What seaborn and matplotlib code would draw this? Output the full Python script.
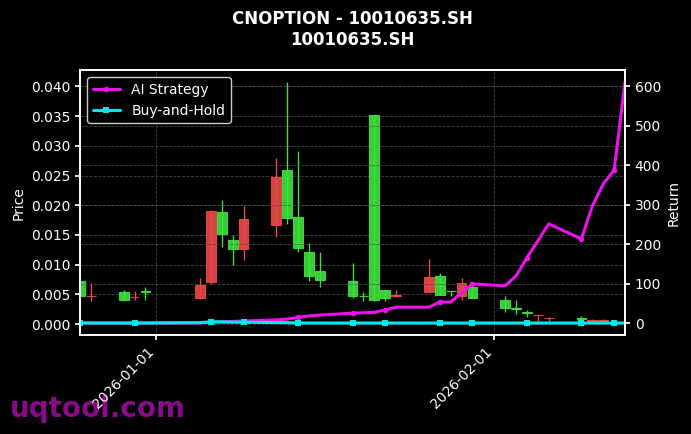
import pandas as pd
import numpy as np
import matplotlib
matplotlib.use("Agg")
import matplotlib.pyplot as plt
import matplotlib.dates as mdates
import seaborn as sns

# trading days shown on the chart
dates = pd.to_datetime([
    "2025-12-25", "2025-12-26", "2025-12-29", "2025-12-30", "2025-12-31",
    "2026-01-05", "2026-01-06", "2026-01-07", "2026-01-08", "2026-01-09",
    "2026-01-12", "2026-01-13", "2026-01-14", "2026-01-15", "2026-01-16",
    "2026-01-19", "2026-01-20", "2026-01-21", "2026-01-22", "2026-01-23",
    "2026-01-26", "2026-01-27", "2026-01-28", "2026-01-29", "2026-01-30",
    "2026-02-02", "2026-02-03", "2026-02-04", "2026-02-05", "2026-02-06",
    "2026-02-09", "2026-02-10", "2026-02-11", "2026-02-12", "2026-02-13",
])

open_ = [0.0073, 0.0047, 0.0054, 0.0045, 0.0055,
         0.0044, 0.0071, 0.0189, 0.0142, 0.0127,
         0.0167, 0.0260, 0.0181, 0.0122, 0.0089,
         0.0073, 0.0048, 0.0351, 0.0057, 0.0048,
         0.0054, 0.0081, 0.0056, 0.0047, 0.0062,
         0.0041, 0.0027, 0.0020, 0.0015, 0.0010,
         0.0010, 0.0006, 0.0006, 0.0004, 0.0003]
close = [0.0047, 0.0048, 0.0041, 0.0046, 0.0054,
         0.0066, 0.0191, 0.0152, 0.0127, 0.0177,
         0.0248, 0.0179, 0.0128, 0.0081, 0.0074,
         0.0047, 0.0047, 0.0041, 0.0044, 0.0049,
         0.0079, 0.0049, 0.0055, 0.0069, 0.0044,
         0.0027, 0.0026, 0.0019, 0.0015, 0.0010,
         0.0009, 0.0007, 0.0007, 0.0004, 0.0003]
high = [0.0073, 0.0069, 0.0057, 0.0056, 0.0062,
        0.0078, 0.0192, 0.0208, 0.0150, 0.0199,
        0.0279, 0.0407, 0.0292, 0.0137, 0.0122,
        0.0103, 0.0054, 0.0351, 0.0057, 0.0057,
        0.0110, 0.0086, 0.0056, 0.0078, 0.0062,
        0.0047, 0.0041, 0.0024, 0.0015, 0.0012,
        0.0013, 0.0008, 0.0008, 0.0005, 0.0004]
low = [0.0047, 0.0039, 0.0041, 0.0040, 0.0041,
       0.0043, 0.0068, 0.0130, 0.0100, 0.0108,
       0.0147, 0.0169, 0.0122, 0.0073, 0.0062,
       0.0044, 0.0039, 0.0039, 0.0039, 0.0046,
       0.0054, 0.0049, 0.0047, 0.0041, 0.0044,
       0.0020, 0.0017, 0.0012, 0.0005, 0.0005,
       0.0005, 0.0005, 0.0005, 0.0003, 0.0002]

ai_return = [0, 0, 0, 0, 0,
             0, 2, 3, 4, 5,
             8, 10, 14, 18, 20,
             25, 26, 27, 33, 40,
             40, 53, 53, 76, 99,
             94, 119, 165, 208, 251,
             213, 296, 352, 387, 610]
bh_return = [0, 0, 0, 0, 0,
             1, 3, 3, 2, 2,
             1, 1, 0, 0, 0,
             0, 0, 0, 0, 0,
             0, 0, 0, 0, 0,
             0, 0, 0, 0, 0,
             0, 0, 0, 0, 0]

sns.set_theme(style="dark")
plt.rcParams.update({
    "figure.facecolor": "black", "axes.facecolor": "black",
    "axes.edgecolor": "white", "axes.labelcolor": "white",
    "xtick.color": "white", "ytick.color": "white", "text.color": "white",
    "xtick.bottom": True, "ytick.left": True,
    "font.size": 10, "axes.labelsize": 10, "xtick.labelsize": 10,
    "ytick.labelsize": 10, "legend.fontsize": 10,
    "xtick.major.size": 3.5, "ytick.major.size": 3.5,
})
plt.rcParams["font.family"] = ["DejaVu Sans"]

df = pd.DataFrame({"date": dates, "open": open_, "close": close,
                   "high": high, "low": low,
                   "ai": ai_return, "bh": bh_return})
up = df["close"] >= df["open"]
colors = np.where(up, "#e84848", "#3ee03e")

fig = plt.figure(figsize=(6.91, 4.34), dpi=100)
ax = fig.add_axes([0.1158, 0.228, 0.7887, 0.6105])

ax.vlines(df["date"], df["low"], df["high"], colors=colors, linewidth=1, zorder=2)
body_bottom = df[["open", "close"]].min(axis=1)
body_h = (df["close"] - df["open"]).abs()
ax.bar(df["date"], body_h, bottom=body_bottom, width=0.9, color=colors,
       edgecolor=colors, linewidth=0.8, alpha=0.92, zorder=3)

ax.set_ylabel("Price", color="white")
ax.grid(True, color="#555555", linestyle="--", linewidth=0.6, alpha=0.8)
ax.xaxis.set_major_locator(mdates.MonthLocator())
ax.xaxis.set_major_formatter(mdates.DateFormatter("%Y-%m-%d"))
plt.setp(ax.get_xticklabels(), rotation=45, ha="right")
ax.set_yticks(np.arange(0, 0.0401, 0.005))
ax.yaxis.set_major_formatter(plt.FormatStrFormatter("%.3f"))

ax2 = ax.twinx()
sns.lineplot(data=df, x="date", y="ai", ax=ax2, color="#ee11ee", linewidth=2.2,
             marker="o", markersize=4, markeredgewidth=0, markevery=3,
             label="AI Strategy")
sns.lineplot(data=df, x="date", y="bh", ax=ax2, color="#00e8e8", linewidth=2.2,
             marker="s", markersize=4, markeredgewidth=0, markevery=3,
             label="Buy-and-Hold")
ax2.set_ylabel("Return", color="white")
ax2.set_xlabel("")
ax2.grid(True, axis="y", color="#555555", linestyle="--", linewidth=0.6, alpha=0.8)
ax2.grid(False, axis="x")
ax2.tick_params(axis="y", colors="white", right=True)
for sp in ax2.spines.values():
    sp.set_color("white")
ax2.legend(loc="upper left", facecolor="black", edgecolor="#cccccc",
           labelcolor="white", fontsize=10, framealpha=1)

ax.set_xlim(df["date"].iloc[0], df["date"].iloc[-1])
ax.set_title("CNOPTION - 10010635.SH\n10010635.SH", color="white",
             fontsize=12, fontweight="bold", pad=18)

fig.text(0.014, 0.04, "uqtool.com", color="#8a0a8a", fontsize=20,
         fontweight="bold", zorder=-1)

fig.savefig("out.png", dpi=100, facecolor="black")
